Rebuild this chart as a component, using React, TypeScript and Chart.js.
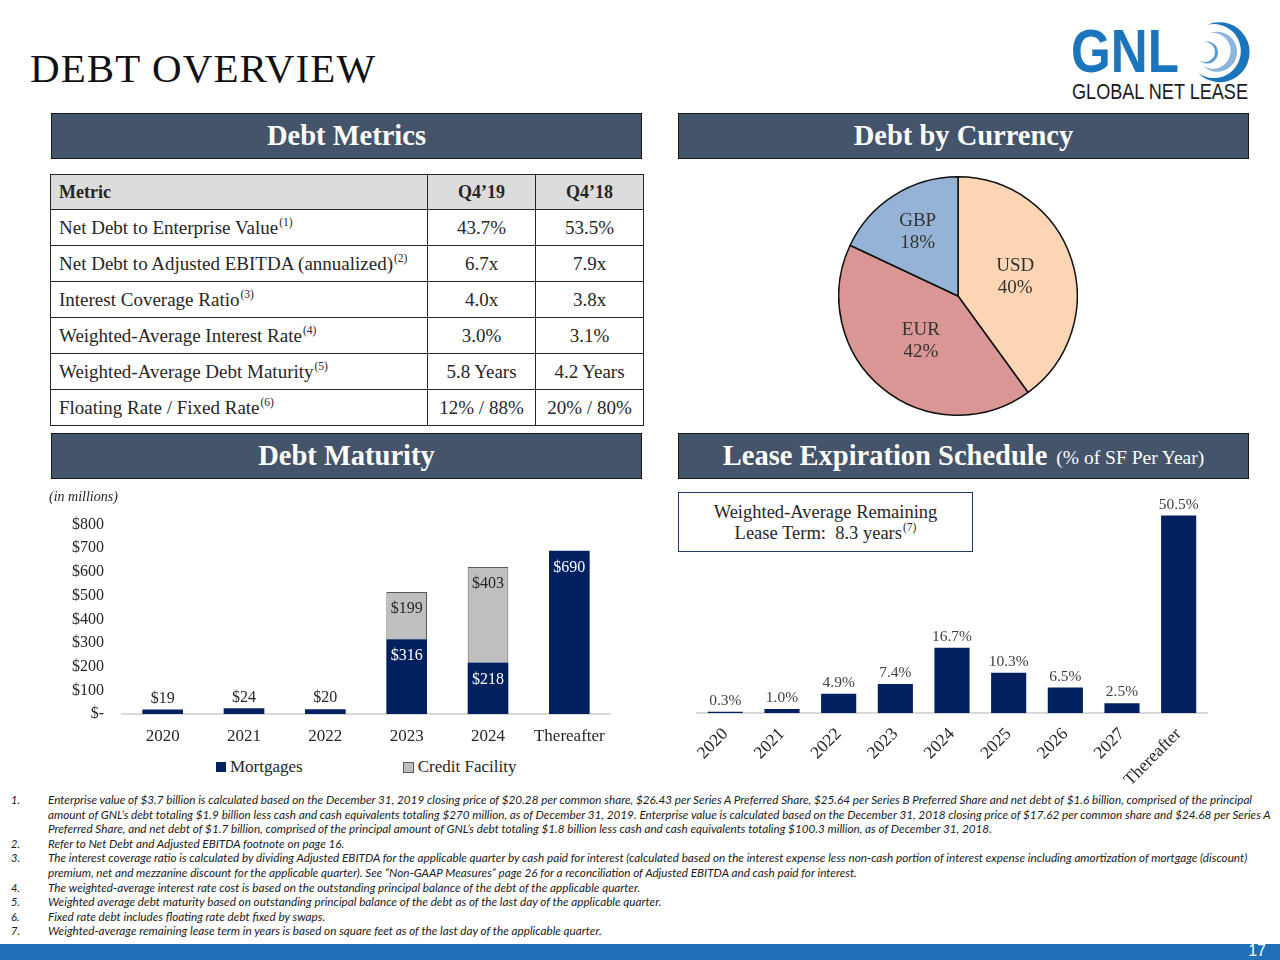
import React, { useEffect, useLayoutEffect, useRef, useState } from "react";
import { Chart, registerables } from "chart.js";
Chart.register(...registerables);

const SERIF = "'Liberation Serif', 'Times New Roman', serif";
const SANS = "'Liberation Sans', Arial, sans-serif";
const NAVY = "#002060";
const HEADER_BG = "#44546a";
const TEXT = "#262626";

// ---- Debt metrics table ----
const metricNames = [
  "Net Debt to Enterprise Value",
  "Net Debt to Adjusted EBITDA (annualized)",
  "Interest Coverage Ratio",
  "Weighted-Average Interest Rate",
  "Weighted-Average Debt Maturity",
  "Floating Rate / Fixed Rate",
];
const metricNotes = ["(1)", "(2)", "(3)", "(4)", "(5)", "(6)"];
const metricQ419 = ["43.7%", "6.7x", "4.0x", "3.0%", "5.8 Years", "12% / 88%"];
const metricQ418 = ["53.5%", "7.9x", "3.8x", "3.1%", "4.2 Years", "20% / 80%"];

// ---- Debt by currency ----
const currencyLabels = ["USD", "EUR", "GBP"];
const currencyShares = [40, 42, 18];
const currencyColors = ["#fcd5b5", "#d99694", "#95b3d7"];

// ---- Debt maturity ----
const maturityCategories = ["2020", "2021", "2022", "2023", "2024", "Thereafter"];
const mortgageValues = [19, 24, 20, 316, 218, 690];
const creditFacilityValues = [0, 0, 0, 199, 403, 0];
const maturityTickValues = [0, 100, 200, 300, 400, 500, 600, 700, 800];

// ---- Lease expiration ----
const leaseCategories = ["2020", "2021", "2022", "2023", "2024", "2025", "2026", "2027", "Thereafter"];
const leaseValues = [0.3, 1.0, 4.9, 7.4, 16.7, 10.3, 6.5, 2.5, 50.5];

// ---- Footnotes ----
const footnoteNumbers = ["1.", "2.", "3.", "4.", "5.", "6.", "7."];
const footnoteLines = [
  [
    "Enterprise value of $3.7 billion is calculated based on the December 31, 2019 closing price of $20.28 per common share, $26.43 per Series A Preferred Share, $25.64 per Series B Preferred Share and net debt of $1.6 billion, comprised of the principal",
    "amount of GNL\u2019s debt totaling $1.9 billion less cash and cash equivalents totaling $270 million, as of December 31, 2019. Enterprise value is calculated based on the December 31, 2018 closing price of $17.62 per common share and $24.68 per Series A",
    "Preferred Share, and net debt of $1.7 billion, comprised of the principal amount of GNL\u2019s debt totaling $1.8 billion less cash and cash equivalents totaling $100.3 million, as of December 31, 2018.",
  ],
  ["Refer to Net Debt and Adjusted EBITDA footnote on page 16."],
  [
    "The interest coverage ratio is calculated by dividing Adjusted EBITDA for the applicable quarter by cash paid for interest (calculated based on the interest expense less non-cash portion of interest expense including amortization of mortgage (discount)",
    "premium, net and mezzanine discount for the applicable quarter). See \u201cNon-GAAP Measures\u201d page 26 for a reconciliation of Adjusted EBITDA and cash paid for interest.",
  ],
  ["The weighted-average interest rate cost is based on the outstanding principal balance of the debt of the applicable quarter."],
  ["Weighted average debt maturity based on outstanding principal balance of the debt as of the last day of the applicable quarter."],
  ["Fixed rate debt includes floating rate debt fixed by swaps."],
  ["Weighted-average remaining lease term in years is based on square feet as of the last day of the applicable quarter."],
];

Chart.defaults.font.family = SERIF;

const pieLabelPlugin = {
  id: "pieLabels",
  afterDatasetsDraw(chart: any) {
    const meta = chart.getDatasetMeta(0);
    const ctx = chart.ctx;
    ctx.save();
    ctx.font = `19px ${SERIF}`;
    ctx.fillStyle = "#333333";
    ctx.textAlign = "center";
    ctx.textBaseline = "middle";
    meta.data.forEach((arc: any, i: number) => {
      const { x, y, startAngle, endAngle, outerRadius } = arc.getProps(
        ["x", "y", "startAngle", "endAngle", "outerRadius"],
        true
      );
      const half = (endAngle - startAngle) / 2;
      const mid = startAngle + half;
      const d = (2 * outerRadius * Math.sin(half)) / (3 * half);
      const cx = x + Math.cos(mid) * d;
      const cy = y + Math.sin(mid) * d;
      ctx.fillText(String(chart.data.labels[i]), cx, cy - 11);
      ctx.fillText(chart.data.datasets[0].data[i] + "%", cx, cy + 11);
    });
    ctx.restore();
  },
};

const maturityLabelPlugin = {
  id: "maturityLabels",
  afterDatasetsDraw(chart: any) {
    const ctx = chart.ctx;
    ctx.save();
    ctx.font = `16px ${SERIF}`;
    ctx.textAlign = "center";
    ctx.textBaseline = "middle";
    chart.data.datasets.forEach((ds: any, di: number) => {
      const meta = chart.getDatasetMeta(di);
      meta.data.forEach((bar: any, i: number) => {
        const v = ds.data[i];
        if (!v) return;
        const { x, y, base } = bar.getProps(["x", "y", "base"], true);
        const h = base - y;
        if (h < 30) {
          ctx.fillStyle = TEXT;
          ctx.fillText("$" + v, x, y - 11);
        } else {
          ctx.fillStyle = di === 0 ? "#ffffff" : TEXT;
          ctx.fillText("$" + v, x, y + 17);
        }
      });
    });
    ctx.restore();
  },
};

const leaseLabelPlugin = {
  id: "leaseLabels",
  afterDatasetsDraw(chart: any) {
    const ctx = chart.ctx;
    ctx.save();
    ctx.font = `15.5px ${SERIF}`;
    ctx.fillStyle = "#404040";
    ctx.textAlign = "center";
    ctx.textBaseline = "middle";
    const meta = chart.getDatasetMeta(0);
    meta.data.forEach((bar: any, i: number) => {
      const v = chart.data.datasets[0].data[i];
      const { x, y } = bar.getProps(["x", "y"], true);
      ctx.fillText(v.toFixed(1) + "%", x, y - 11);
    });
    ctx.restore();
  },
};

function PieChart() {
  const ref = useRef<HTMLCanvasElement>(null);
  useEffect(() => {
    const chart = new Chart(ref.current as HTMLCanvasElement, {
      type: "pie",
      data: {
        labels: currencyLabels,
        datasets: [
          {
            data: currencyShares,
            backgroundColor: currencyColors,
            borderColor: "#111111",
            borderWidth: 1.5,
          },
        ],
      },
      options: {
        animation: false,
        responsive: false,
        layout: { padding: 0 },
        plugins: { legend: { display: false }, tooltip: { enabled: false } },
      },
      plugins: [pieLabelPlugin],
    } as any);
    return () => chart.destroy();
  }, []);
  return (
    <canvas
      ref={ref}
      width={240}
      height={240}
      style={{ position: "absolute", left: 838, top: 176, width: 240, height: 240 }}
    />
  );
}

function MaturityChart() {
  const ref = useRef<HTMLCanvasElement>(null);
  useEffect(() => {
    const chart = new Chart(ref.current as HTMLCanvasElement, {
      type: "bar",
      data: {
        labels: maturityCategories,
        datasets: [
          {
            label: "Mortgages",
            data: mortgageValues,
            backgroundColor: NAVY,
            borderWidth: 0,
            categoryPercentage: 0.5,
            barPercentage: 1,
          },
          {
            label: "Credit Facility",
            data: creditFacilityValues,
            backgroundColor: "#bfbfbf",
            borderColor: "#595959",
            borderWidth: (c: any) => (c.raw ? 1 : 0),
            categoryPercentage: 0.5,
            barPercentage: 1,
          },
        ],
      },
      options: {
        animation: false,
        responsive: false,
        layout: { padding: { top: 0, right: 30, left: 0, bottom: 0 } },
        plugins: { legend: { display: false }, tooltip: { enabled: false } },
        scales: {
          x: {
            stacked: true,
            grid: { display: false, drawTicks: false },
            border: { display: true, color: "#d9d9d9", width: 2 },
            ticks: { font: { size: 17, family: SERIF }, color: TEXT, padding: 12, maxRotation: 0 },
            afterFit: (s: any) => {
              s.height = 30;
            },
          },
          y: {
            stacked: true,
            min: 0,
            max: 800,
            grid: { display: false, drawTicks: false },
            border: { display: false },
            ticks: {
              font: { size: 16, family: SERIF },
              color: TEXT,
              padding: 18,
              callback: (v: any) => (Number(v) === 0 ? "$-" : "$" + v),
            },
            afterBuildTicks: (s: any) => {
              s.ticks = maturityTickValues.map((v) => ({ value: v }));
            },
            afterFit: (s: any) => {
              s.width = 72;
            },
          },
        },
      },
      plugins: [maturityLabelPlugin],
    } as any);
    return () => chart.destroy();
  }, []);
  return (
    <canvas
      ref={ref}
      width={590}
      height={247}
      style={{ position: "absolute", left: 50, top: 497, width: 590, height: 247 }}
    />
  );
}

function LeaseChart() {
  const ref = useRef<HTMLCanvasElement>(null);
  useEffect(() => {
    const chart = new Chart(ref.current as HTMLCanvasElement, {
      type: "bar",
      data: {
        labels: leaseCategories,
        datasets: [
          {
            label: "Lease Expiration",
            data: leaseValues,
            backgroundColor: NAVY,
            borderWidth: 0,
            categoryPercentage: 0.62,
            barPercentage: 1,
          },
        ],
      },
      options: {
        animation: false,
        responsive: false,
        layout: { padding: { top: 8, right: 43, left: 19, bottom: 0 } },
        plugins: { legend: { display: false }, tooltip: { enabled: false } },
        scales: {
          x: {
            grid: { display: false, drawTicks: false },
            border: { display: true, color: "#d9d9d9", width: 2 },
            ticks: {
              font: { size: 17.5, family: SERIF },
              color: TEXT,
              padding: 11,
              minRotation: 45,
              maxRotation: 45,
              autoSkip: false,
            },
            afterFit: (s: any) => {
              s.height = 75;
            },
          },
          y: { display: false, min: 0, max: 55 },
        },
      },
      plugins: [leaseLabelPlugin],
    } as any);
    return () => chart.destroy();
  }, []);
  return (
    <canvas
      ref={ref}
      width={572}
      height={298}
      style={{ position: "absolute", left: 678, top: 490, width: 572, height: 298 }}
    />
  );
}

function HeaderBar(props: { left: number; top: number; width: number; children: any }) {
  return (
    <div
      style={{
        position: "absolute",
        left: props.left,
        top: props.top,
        width: props.width,
        height: 46,
        boxSizing: "border-box",
        background: HEADER_BG,
        border: "1.5px solid #1a1a1a",
        color: "#ffffff",
        fontFamily: SERIF,
        fontWeight: "bold",
        fontSize: 28.5,
        display: "flex",
        alignItems: "center",
        justifyContent: "center",
        whiteSpace: "nowrap",
      }}
    >
      {props.children}
    </div>
  );
}

function Sup(props: { children: any }) {
  return (
    <span style={{ fontSize: 11.5, position: "relative", top: -8, marginLeft: 1 }}>{props.children}</span>
  );
}

function MetricsTable() {
  const cell: any = {
    border: "1.5px solid #262626",
    padding: 0,
    verticalAlign: "middle",
  };
  return (
    <table
      style={{
        position: "absolute",
        left: 50,
        top: 174,
        width: 593,
        borderCollapse: "collapse",
        tableLayout: "fixed",
        fontFamily: SERIF,
        fontSize: 19,
        color: TEXT,
      }}
    >
      <colgroup>
        <col style={{ width: 377 }} />
        <col style={{ width: 108 }} />
        <col style={{ width: 108 }} />
      </colgroup>
      <tbody>
        <tr style={{ height: 35, background: "#dcdcdc", fontWeight: "bold", fontSize: 18 }}>
          <td style={{ ...cell, paddingLeft: 8 }}>Metric</td>
          <td style={{ ...cell, textAlign: "center" }}>Q4{"\u2019"}19</td>
          <td style={{ ...cell, textAlign: "center" }}>Q4{"\u2019"}18</td>
        </tr>
        {metricNames.map((name, i) => (
          <tr key={name} style={{ height: 36 }}>
            <td style={{ ...cell, paddingLeft: 8, whiteSpace: "nowrap" }}>
              {name}
              <Sup>{metricNotes[i]}</Sup>
            </td>
            <td style={{ ...cell, textAlign: "center", whiteSpace: "nowrap" }}>{metricQ419[i]}</td>
            <td style={{ ...cell, textAlign: "center", whiteSpace: "nowrap" }}>{metricQ418[i]}</td>
          </tr>
        ))}
      </tbody>
    </table>
  );
}

function Footnotes() {
  const firstRef = useRef<HTMLDivElement>(null);
  const [k, setK] = useState(1);
  useLayoutEffect(() => {
    if (firstRef.current) {
      const w = firstRef.current.getBoundingClientRect().width;
      if (w > 0) setK(1204 / w);
    }
  }, []);
  const rows: { num: string; text: string; first: boolean }[] = [];
  footnoteLines.forEach((lines, i) => {
    lines.forEach((t, j) => rows.push({ num: j === 0 ? footnoteNumbers[i] : "", text: t, first: i === 0 && j === 0 }));
  });
  const style: any = {
    fontFamily: "Lato, 'Noto Sans', sans-serif",
    fontStyle: "italic",
    fontSize: 11,
    color: "#1a1a1a",
    lineHeight: "14px",
    whiteSpace: "nowrap",
  };
  return (
    <>
      {rows.map((r, i) => (
        <React.Fragment key={i}>
          {r.num && (
            <div style={{ ...style, position: "absolute", left: 11, top: 793 + i * 14.6 }}>{r.num}</div>
          )}
          <div
            style={{
              ...style,
              position: "absolute",
              left: 48,
              top: 793 + i * 14.6,
              transform: `scaleX(${k})`,
              transformOrigin: "left top",
            }}
          >
            <span ref={r.first ? (firstRef as any) : undefined} style={{ display: "inline-block" }}>
              {r.text}
            </span>
          </div>
        </React.Fragment>
      ))}
    </>
  );
}

function Logo() {
  return (
    <svg
      width={1280}
      height={120}
      style={{ position: "absolute", left: 0, top: 0, pointerEvents: "none" }}
    >
      <text
        x={1071}
        y={72}
        fontFamily={SANS}
        fontWeight="bold"
        fontSize={61}
        fill="#1b75bc"
        textLength={108}
        lengthAdjust="spacingAndGlyphs"
      >
        GNL
      </text>
      <text
        x={1072}
        y={99}
        fontFamily={SANS}
        fontSize={22}
        fill="#1a1a1a"
        textLength={176}
        lengthAdjust="spacingAndGlyphs"
      >
        GLOBAL NET LEASE
      </text>
      <path d="M1207,25 A30,30 0 1 1 1198,73 A27,27 0 1 0 1207,25 Z" fill="#1b75bc" />
      <path d="M1210,33 A20,20 0 1 1 1203,66 A18,18 0 1 0 1210,33 Z" fill="#8db6dd" />
      <path d="M1204,42 A11,11 0 1 1 1199,60 A10,10 0 1 0 1204,42 Z" fill="#5a9bd5" />
    </svg>
  );
}

export default function App() {
  useEffect(() => {
    document.body.style.margin = "0";
  }, []);
  return (
    <div
      style={{
        position: "absolute",
        left: 0,
        top: 0,
        width: 1280,
        height: 960,
        background: "#ffffff",
        overflow: "hidden",
        fontFamily: SERIF,
      }}
    >
      <div
        style={{
          position: "absolute",
          left: 30,
          top: 48,
          fontFamily: SERIF,
          fontSize: 41,
          letterSpacing: 1.1,
          lineHeight: "41px",
          color: "#111111",
          whiteSpace: "nowrap",
        }}
      >
        DEBT OVERVIEW
      </div>
      <Logo />

      <HeaderBar left={51} top={113} width={591}>
        Debt Metrics
      </HeaderBar>
      <HeaderBar left={678} top={113} width={571}>
        Debt by Currency
      </HeaderBar>
      <HeaderBar left={51} top={433} width={591}>
        Debt Maturity
      </HeaderBar>
      <HeaderBar left={678} top={433} width={571}>
        <span>Lease Expiration Schedule</span>
        <span style={{ fontWeight: "normal", fontSize: 19.5, marginLeft: 9, position: "relative", top: 2 }}>
          (% of SF Per Year)
        </span>
      </HeaderBar>

      <MetricsTable />
      <PieChart />

      <MaturityChart />
      <div
        style={{
          position: "absolute",
          left: 49,
          top: 489,
          fontFamily: SERIF,
          fontStyle: "italic",
          fontSize: 14,
          color: TEXT,
          whiteSpace: "nowrap",
        }}
      >
        (in millions)
      </div>
      <div
        style={{
          position: "absolute",
          left: 216,
          top: 757,
          fontFamily: SERIF,
          fontSize: 17,
          color: TEXT,
          display: "flex",
          alignItems: "center",
          whiteSpace: "nowrap",
        }}
      >
        <span style={{ display: "inline-block", width: 10, height: 10, background: NAVY, marginRight: 4 }} />
        <span>Mortgages</span>
        <span
          style={{
            display: "inline-block",
            width: 9,
            height: 9,
            background: "#bfbfbf",
            border: "1px solid #595959",
            marginLeft: 100,
            marginRight: 4,
          }}
        />
        <span>Credit Facility</span>
      </div>

      <LeaseChart />
      <div
        style={{
          position: "absolute",
          left: 678,
          top: 492,
          width: 295,
          height: 60,
          boxSizing: "border-box",
          border: "1.5px solid #1f3864",
          background: "#ffffff",
          fontFamily: SERIF,
          fontSize: 18.5,
          lineHeight: "21px",
          paddingTop: 3,
          color: TEXT,
          textAlign: "center",
          display: "flex",
          flexDirection: "column",
          justifyContent: "center",
          whiteSpace: "nowrap",
        }}
      >
        <div>Weighted-Average Remaining</div>
        <div>
          Lease Term:&nbsp; 8.3 years<Sup>(7)</Sup>
        </div>
      </div>

      <Footnotes />

      <div
        style={{
          position: "absolute",
          left: 0,
          top: 944,
          width: 1280,
          height: 16,
          background: "#1f6fb9",
        }}
      />
      <div
        style={{
          position: "absolute",
          right: 14,
          top: 942,
          fontFamily: SANS,
          fontSize: 16,
          lineHeight: "18px",
          color: "#ffffff",
        }}
      >
        17
      </div>
    </div>
  );
}
